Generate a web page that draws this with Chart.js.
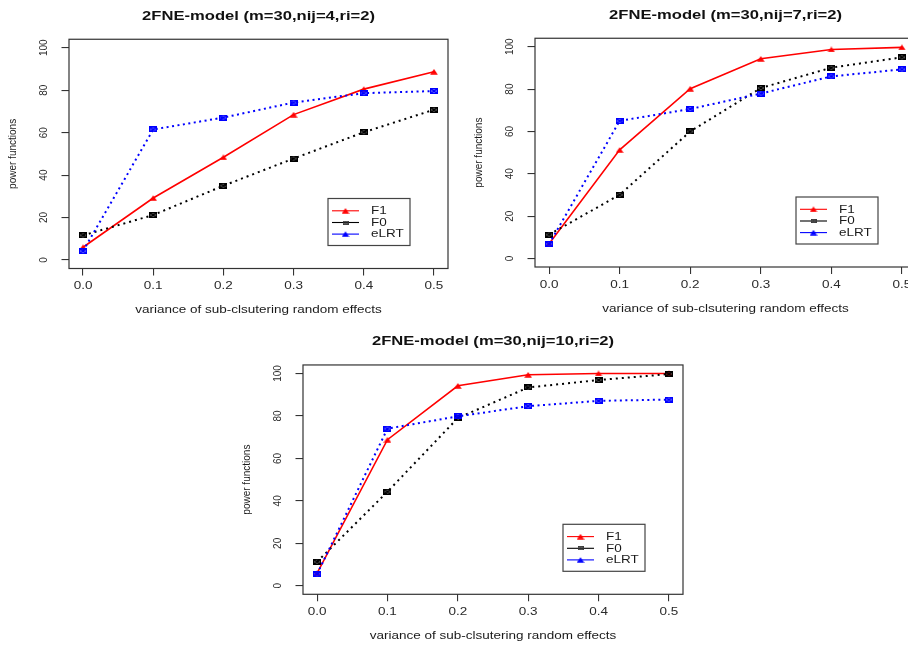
<!DOCTYPE html>
<html>
<head>
<meta charset="utf-8">
<script src="https://cdn.jsdelivr.net/npm/chart.js@4.4.1/dist/chart.umd.min.js"></script>
<style>
html, body { margin:0; padding:0; background:#fff; overflow:hidden; width:908px; height:645px; }
canvas { position:absolute; }
</style>
</head>
<body>
<canvas id="c1" width="454" height="320" style="left:0px;top:0px;width:454px;height:320px"></canvas>
<canvas id="c2" width="470" height="320" style="left:454px;top:0px;width:470px;height:320px"></canvas>
<canvas id="c3" width="460" height="325" style="left:230px;top:320px;width:460px;height:325px"></canvas>
<script>
// ---------------- data ----------------
const xValues = [0.0, 0.1, 0.2, 0.3, 0.4, 0.5];
const xTickValues = [0.0, 0.1, 0.2, 0.3, 0.4, 0.5];
const yTickValues = [0, 20, 40, 60, 80, 100];
const seriesNames = ['F1', 'F0', 'eLRT'];

const titles = [
  '2FNE-model (m=30,nij=4,ri=2)',
  '2FNE-model (m=30,nij=7,ri=2)',
  '2FNE-model (m=30,nij=10,ri=2)'
];
const xAxisTitle = 'variance of sub-clsutering random effects';
const yAxisTitle = 'power functions';

const nij4F1   = [6.0, 29.2, 48.4, 68.5, 80.5, 88.7];
const nij4F0   = [11.6, 21.2, 35.0, 47.8, 60.2, 70.8];
const nij4eLRT = [4.2, 61.5, 67.1, 74.2, 78.6, 79.6];

const nij7F1   = [7.0, 51.3, 80.2, 94.3, 98.7, 99.7];
const nij7F0   = [11.3, 30.1, 60.0, 80.5, 90.1, 95.0];
const nij7eLRT = [6.8, 65.0, 70.6, 77.9, 86.0, 89.3];

const nij10F1   = [6.0, 68.8, 94.2, 99.4, 100, 100];
const nij10F0   = [11.3, 44.3, 79.0, 93.4, 96.9, 99.7];
const nij10eLRT = [5.5, 74.0, 79.8, 84.6, 87.1, 87.7];

// ---------------- styling ----------------
const TEXT_STRETCH = 1.35;
const FONT = "'Liberation Sans', Arial, Helvetica, sans-serif";
const RED = '#ff0000', BLUE = '#0000ff', BLACK = '#000000';
const AXIS_COLOR = '#333333';

// horizontal text in the reference is widened; stretch unrotated text
function patchCtx(ctx) {
  const proto = CanvasRenderingContext2D.prototype.fillText;
  ctx.fillText = function (text, x, y, maxWidth) {
    const m = this.getTransform();
    if (Math.abs(m.b) < 1e-6 && Math.abs(m.c) < 1e-6) {
      this.save();
      this.translate(x, y);
      this.scale(TEXT_STRETCH, 1);
      proto.call(this, text, 0, 0);
      this.restore();
    } else {
      if (maxWidth === undefined) proto.call(this, text, x, y);
      else proto.call(this, text, x, y, maxWidth);
    }
  };
}

function triangleImg(color) {
  const c = document.createElement('canvas');
  c.width = 8; c.height = 6;
  const g = c.getContext('2d');
  g.fillStyle = color;
  g.beginPath();
  g.moveTo(4, 0.2); g.lineTo(7.8, 5.8); g.lineTo(0.2, 5.8); g.closePath();
  g.fill();
  return c;
}
function xSquareImg(color, w, h, lw) {
  const c = document.createElement('canvas');
  c.width = w; c.height = h;
  const g = c.getContext('2d');
  g.strokeStyle = color;
  g.lineWidth = lw;
  const o = lw / 2;
  g.strokeRect(o, o, w - lw, h - lw);
  g.beginPath();
  g.moveTo(o, o); g.lineTo(w - o, h - o);
  g.moveTo(w - o, o); g.lineTo(o, h - o);
  g.stroke();
  return c;
}

const imgTriRed = triangleImg(RED);
const imgTriBlue = triangleImg(BLUE);
const imgSqBlack = xSquareImg(BLACK, 8, 6, 1.6);
const imgSqBlue = xSquareImg(BLUE, 8, 6, 1.6);
const imgSqBlackSmall = xSquareImg('#333333', 6, 4, 0.9);

const boxPlugin = {
  id: 'rbox',
  afterDraw(chart) {
    const a = chart.chartArea, ctx = chart.ctx;
    ctx.save();
    ctx.strokeStyle = AXIS_COLOR;
    ctx.lineWidth = 1.2;
    ctx.strokeRect(a.left, a.top, a.right - a.left, a.bottom - a.top);
    ctx.restore();
  }
};

const legendPlugin = {
  id: 'rlegend',
  afterDraw(chart) {
    const a = chart.chartArea, ctx = chart.ctx;
    const w = 82, h = 47;
    const x0 = a.right - 38 - w, y0 = a.bottom - 23 - h;
    ctx.save();
    ctx.strokeStyle = '#444444';
    ctx.lineWidth = 1.2;
    ctx.strokeRect(x0, y0, w, h);
    const rows = [
      { name: seriesNames[0], color: RED, img: imgTriRed },
      { name: seriesNames[1], color: BLACK, img: imgSqBlackSmall },
      { name: seriesNames[2], color: BLUE, img: imgTriBlue }
    ];
    const rowY = [12.3, 24, 35.6];
    rows.forEach((r, i) => {
      const y = y0 + rowY[i];
      ctx.strokeStyle = r.color;
      ctx.lineWidth = 1.1;
      ctx.beginPath();
      ctx.moveTo(x0 + 4, y); ctx.lineTo(x0 + 31, y);
      ctx.stroke();
      ctx.drawImage(r.img, x0 + 17.5 - r.img.width / 2, y - r.img.height / 2);
      ctx.fillStyle = '#1a1a1a';
      ctx.font = '10px ' + FONT;
      ctx.textAlign = 'left';
      ctx.textBaseline = 'middle';
      ctx.fillText(r.name, x0 + 43, y + 0.5);
    });
    ctx.restore();
  }
};

function makeChart(id, title, f1, f0, elrt, p) {
  const canvas = document.getElementById(id);
  const ctx = canvas.getContext('2d');
  patchCtx(ctx);
  const pts = arr => xValues.map((x, i) => ({ x: x, y: arr[i] }));
  return new Chart(ctx, {
    type: 'line',
    data: {
      datasets: [
        { label: seriesNames[0], data: pts(f1), borderColor: RED, borderWidth: 1.6,
          pointStyle: imgTriRed, pointRadius: 4, order: 2, tension: 0, fill: false },
        { label: seriesNames[1], data: pts(f0), borderColor: BLACK, borderWidth: 2,
          borderDash: [2, 4], pointStyle: imgSqBlack, pointRadius: 4, order: 1, tension: 0, fill: false },
        { label: seriesNames[2], data: pts(elrt), borderColor: BLUE, borderWidth: 2,
          borderDash: [2, 3.5], pointStyle: imgSqBlue, pointRadius: 4, order: 0, tension: 0, fill: false }
      ]
    },
    options: {
      responsive: false,
      animation: false,
      devicePixelRatio: 1,
      events: [],
      layout: { padding: { left: p.left, right: p.right, top: 0, bottom: p.bottom } },
      plugins: {
        legend: { display: false },
        tooltip: { enabled: false },
        title: {
          display: true, text: title, fullSize: false, color: '#111111',
          font: { family: FONT, size: 12.3, weight: 'bold', lineHeight: 1.2 },
          padding: { top: p.tTop, bottom: p.tBottom }
        }
      },
      scales: {
        x: {
          type: 'linear', min: -0.02, max: 0.52,
          afterBuildTicks: s => { s.ticks = xTickValues.map(v => ({ value: v })); },
          afterFit: s => { s.height = 48; s.paddingLeft = 0; s.paddingRight = 0; },
          grid: { display: true, drawOnChartArea: false, drawTicks: true, tickLength: 7, color: AXIS_COLOR, lineWidth: 1.1 },
          border: { display: false },
          ticks: { autoSkip: false, maxRotation: 0, minRotation: 0, padding: 5, color: '#2a2a2a',
            font: { family: FONT, size: 10, lineHeight: 1.2 },
            callback: v => Number(v).toFixed(1) },
          title: { display: true, text: xAxisTitle, color: '#1a1a1a',
            font: { family: FONT, size: 10, lineHeight: 1.2 }, padding: { top: 0, bottom: 0 } }
        },
        y: {
          type: 'linear', min: -4, max: 104,
          afterBuildTicks: s => { s.ticks = yTickValues.map(v => ({ value: v })); },
          afterFit: s => { s.width = 62; s.paddingTop = 0; s.paddingBottom = 0; },
          grid: { display: true, drawOnChartArea: false, drawTicks: true, tickLength: 7.5, color: AXIS_COLOR, lineWidth: 1.1 },
          border: { display: false },
          ticks: { autoSkip: false, minRotation: 90, maxRotation: 90, crossAlign: 'center', padding: 8.5,
            color: '#2a2a2a', font: { family: FONT, size: 10, lineHeight: 1.2 },
            callback: v => String(v) },
          title: { display: true, text: yAxisTitle, color: '#1a1a1a',
            font: { family: FONT, size: 10, lineHeight: 1.2 }, padding: { top: 0, bottom: 0 } }
        }
      }
    },
    plugins: [boxPlugin, legendPlugin]
  });
}

makeChart('c1', titles[0], nij4F1, nij4F0, nij4eLRT,
  { left: 7, right: 4.5, bottom: 3.5, tTop: 9.3, tBottom: 15.2 });
makeChart('c2', titles[1], nij7F1, nij7F0, nij7eLRT,
  { left: 19, right: 8, bottom: 5, tTop: 7.9, tBottom: 15.6 });
makeChart('c3', titles[2], nij10F1, nij10F0, nij10eLRT,
  { left: 11, right: 7, bottom: 2.7, tTop: 14.6, tBottom: 15.6 });
</script>
</body>
</html>
